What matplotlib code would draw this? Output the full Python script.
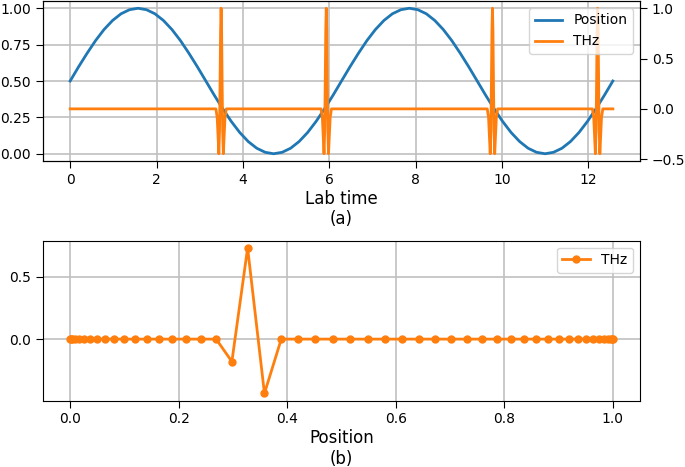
import matplotlib
matplotlib.use("Agg")
import matplotlib.pyplot as plt

# (a) position of the delay stage vs lab time
lab_time = [0.0, 0.196, 0.393, 0.589, 0.785, 0.982, 1.178, 1.374, 1.571, 1.767,
            1.963, 2.160, 2.356, 2.553, 2.749, 2.945, 3.142, 3.338, 3.534, 3.731,
            3.927, 4.123, 4.320, 4.516, 4.712, 4.909, 5.105, 5.301, 5.498, 5.694,
            5.890, 6.087, 6.283, 6.480, 6.676, 6.872, 7.069, 7.265, 7.461, 7.658,
            7.854, 8.050, 8.247, 8.443, 8.639, 8.836, 9.032, 9.228, 9.425, 9.621,
            9.817, 10.014, 10.210, 10.407, 10.603, 10.799, 10.996, 11.192, 11.388, 11.585,
            11.781, 11.977, 12.174, 12.370, 12.566]
position = [0.5, 0.598, 0.691, 0.778, 0.854, 0.916, 0.962, 0.990, 1.0, 0.990,
            0.962, 0.916, 0.854, 0.778, 0.691, 0.598, 0.5, 0.402, 0.309, 0.222,
            0.146, 0.084, 0.038, 0.010, 0.0, 0.010, 0.038, 0.084, 0.146, 0.222,
            0.309, 0.402, 0.5, 0.598, 0.691, 0.778, 0.854, 0.916, 0.962, 0.990,
            1.0, 0.990, 0.962, 0.916, 0.854, 0.778, 0.691, 0.598, 0.5, 0.402,
            0.309, 0.222, 0.146, 0.084, 0.038, 0.010, 0.0, 0.010, 0.038, 0.084,
            0.146, 0.222, 0.309, 0.402, 0.5]

# THz signal seen in lab time (four pulses)
thz_time = [0.0,
            3.375, 3.405, 3.420, 3.443, 3.459, 3.471, 3.483, 3.495, 3.507, 3.519, 3.531, 3.547, 3.570, 3.585, 3.615,
            5.810, 5.840, 5.855, 5.878, 5.894, 5.906, 5.918, 5.930, 5.942, 5.954, 5.966, 5.982, 6.005, 6.020, 6.050,
            9.658, 9.688, 9.703, 9.726, 9.742, 9.754, 9.766, 9.778, 9.790, 9.802, 9.814, 9.830, 9.853, 9.868, 9.898,
            12.093, 12.123, 12.138, 12.161, 12.177, 12.189, 12.201, 12.213, 12.225, 12.237, 12.249, 12.265, 12.288, 12.303, 12.333,
            12.566]
thz_lab = [0.0,
           0.0, -0.089, -0.23, -0.446, -0.214, 0.261, 0.775, 1.0, 0.775, 0.261, -0.214, -0.446, -0.23, -0.089, 0.0,
           0.0, -0.089, -0.23, -0.446, -0.214, 0.261, 0.775, 1.0, 0.775, 0.261, -0.214, -0.446, -0.23, -0.089, 0.0,
           0.0, -0.089, -0.23, -0.446, -0.214, 0.261, 0.775, 1.0, 0.775, 0.261, -0.214, -0.446, -0.23, -0.089, 0.0,
           0.0, -0.089, -0.23, -0.446, -0.214, 0.261, 0.775, 1.0, 0.775, 0.261, -0.214, -0.446, -0.23, -0.089, 0.0,
           0.0]

# (b) THz signal sampled vs position
pos_samples = [0.0, 0.001, 0.004, 0.009, 0.016, 0.025, 0.037, 0.050, 0.064, 0.081,
               0.099, 0.119, 0.141, 0.164, 0.188, 0.214, 0.241, 0.269, 0.298, 0.327,
               0.358, 0.389, 0.420, 0.452, 0.484, 0.516, 0.548, 0.580, 0.611, 0.642,
               0.673, 0.702, 0.731, 0.759, 0.786, 0.812, 0.836, 0.859, 0.881, 0.901,
               0.919, 0.936, 0.950, 0.963, 0.975, 0.984, 0.991, 0.996, 0.999, 1.0]
thz_pos = [0.0] * 18 + [-0.18, 0.73, -0.435] + [0.0] * 29

plt.rcParams['axes.labelsize'] = 12
plt.rcParams['xtick.major.size'] = 5
plt.rcParams['ytick.major.size'] = 5
plt.rcParams['grid.linewidth'] = 1.2
plt.rcParams['grid.color'] = '#c0c0c0'

fig = plt.figure(figsize=(6.85, 4.67), dpi=100)

ax = fig.add_axes([0.0628, 0.6552, 0.8715, 0.3427])
ax.plot(lab_time, position, color="C0", lw=2, label="Position")
ax.grid(True)
ax.set_xlabel("Lab time\n(a)", labelpad=2)

ax2 = ax.twinx()
ax2.plot(thz_time, thz_lab, color="C1", lw=2, label="THz")
h1, l1 = ax.get_legend_handles_labels()
h2, l2 = ax2.get_legend_handles_labels()
ax2.legend(h1 + h2, l1 + l2, loc="upper right")

bx = fig.add_axes([0.0628, 0.1420, 0.8715, 0.3426])
bx.plot(pos_samples, thz_pos, "o-", color="C1", lw=2, markersize=5, label="THz")
bx.grid(True)
bx.set_xlabel("Position\n(b)", labelpad=2)
bx.legend(loc="upper right")

fig.savefig("out.png", dpi=100)
